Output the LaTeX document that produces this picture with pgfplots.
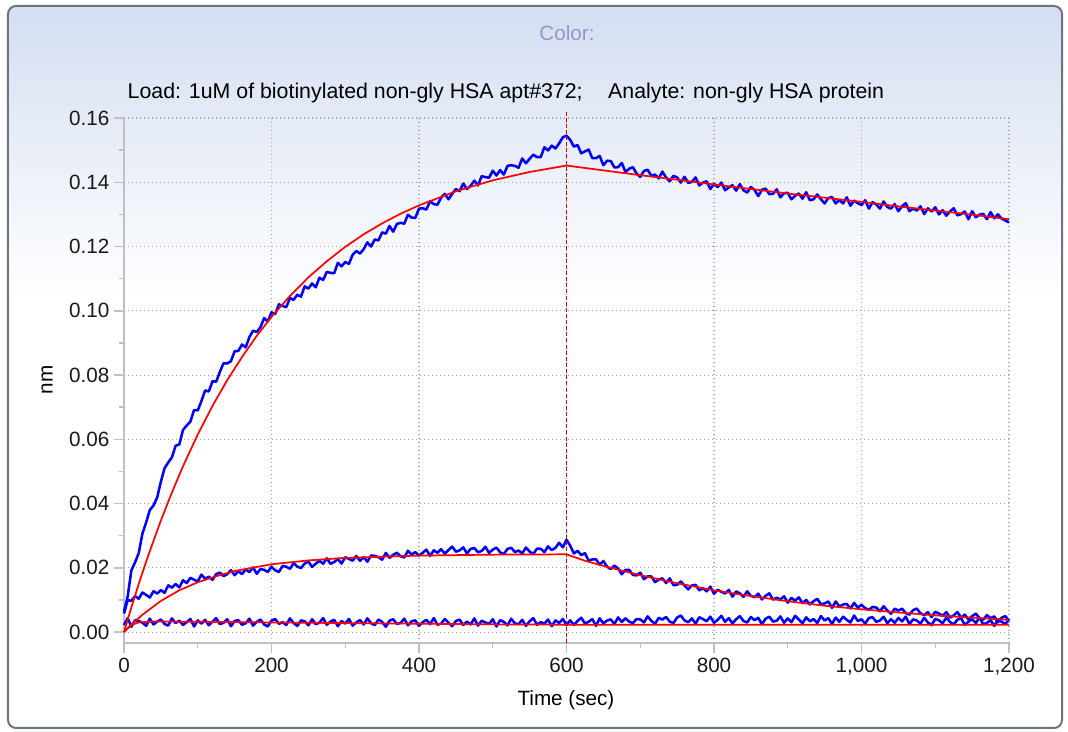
\documentclass[border=0pt]{standalone}
\usepackage{fontspec}
\setmainfont{Liberation Sans}
\usepackage{pgfplots}
\usepackage{pgfplotstable}
\pgfplotsset{compat=1.18}

\definecolor{frameedge}{RGB}{110,116,124}
\definecolor{headtop}{RGB}{212,222,241}
\definecolor{titlelav}{RGB}{150,150,205}
\definecolor{axgray}{RGB}{192,192,192}
\definecolor{gridgray}{RGB}{165,165,165}
\definecolor{sensor}{RGB}{0,0,255}
\definecolor{fitred}{RGB}{255,0,0}
\definecolor{stepred}{RGB}{205,0,0}

% raw sensor traces: t, high, medium, reference
\pgfplotstableread{
t a b c
0 0.0064 0.00576 0.00219
5 0.0111 0.00996 0.00436
10 0.0192 0.0097 0.00165
15 0.0217 0.0112 0.00372
20 0.0246 0.01036 0.00345
25 0.0307 0.01232 0.00291
30 0.0341 0.01158 0.00192
35 0.0380 0.01074 0.00417
40 0.0394 0.01272 0.00237
45 0.0419 0.0120 0.00327
50 0.0468 0.01304 0.0039
55 0.0510 0.01222 0.00255
60 0.0528 0.01454 0.00201
65 0.0544 0.01384 0.00426
70 0.0580 0.01498 0.00282
75 0.0584 0.01388 0.00354
80 0.0629 0.01614 0.00219
85 0.0643 0.01524 0.00309
90 0.0655 0.01688 0.00408
95 0.0691 0.0163 0.00174
100 0.0690 0.01578 0.00363
105 0.0719 0.0179 0.00264
110 0.0752 0.01658 0.00381
115 0.0749 0.01726 0.0021
120 0.0781 0.01626 0.00327
125 0.0779 0.01806 0.00435
130 0.0810 0.0185 0.00246
135 0.0837 0.01742 0.00291
140 0.0836 0.01802 0.00399
145 0.0843 0.01926 0.00183
150 0.0874 0.0177 0.00345
155 0.0875 0.01892 0.00372
160 0.0895 0.01806 0.00228
165 0.0886 0.01952 0.00273
170 0.0918 0.01866 0.00417
175 0.0938 0.02012 0.00201
180 0.0934 0.01814 0.00318
185 0.0949 0.0196 0.0039
190 0.0977 0.01938 0.00237
195 0.0967 0.01868 0.00174
200 0.0995 0.02038 0.00354
205 0.0990 0.01925 0.00408
210 0.1020 0.01868 0.00255
215 0.1015 0.02059 0.00309
220 0.1011 0.02034 0.00219
225 0.1040 0.01969 0.00426
230 0.1034 0.02144 0.00282
235 0.1050 0.02039 0.00192
240 0.1044 0.0199 0.00363
245 0.1076 0.02133 0.00336
250 0.1069 0.02196 0.0021
255 0.1085 0.02027 0.00399
260 0.1073 0.0213 0.00246
265 0.1103 0.02217 0.00291
270 0.1096 0.02128 0.00435
275 0.1121 0.02295 0.00228
280 0.1118 0.02126 0.00327
285 0.1117 0.02181 0.00381
290 0.1149 0.02276 0.00183
295 0.1138 0.02131 0.00345
300 0.1152 0.0233 0.00264
305 0.1146 0.02276 0.00408
310 0.1174 0.02222 0.00201
315 0.1186 0.02368 0.0030
320 0.1178 0.02218 0.00372
325 0.1192 0.02332 0.00237
330 0.1213 0.0219 0.00426
335 0.1200 0.02384 0.00273
340 0.1222 0.0237 0.00219
345 0.1219 0.02332 0.0039
350 0.1244 0.02254 0.00318
355 0.1240 0.02464 0.00165
360 0.1264 0.02314 0.00354
365 0.1246 0.02404 0.00399
370 0.1270 0.0247 0.00255
375 0.1274 0.0236 0.00282
380 0.1271 0.02322 0.00417
385 0.1299 0.02532 0.0021
390 0.1290 0.02414 0.00336
395 0.1289 0.02488 0.00363
400 0.1318 0.02378 0.00192
405 0.1319 0.02468 0.00309
410 0.1315 0.02566 0.00381
415 0.1341 0.02368 0.00246
420 0.1332 0.02546 0.00435
425 0.1330 0.02468 0.00228
430 0.1352 0.02582 0.00264
435 0.1364 0.0244 0.00408
440 0.1347 0.02554 0.00291
445 0.1364 0.0266 0.00183
450 0.1379 0.02502 0.00345
455 0.1372 0.02542 0.0039
460 0.1396 0.02638 0.00219
465 0.1379 0.02446 0.00327
470 0.1389 0.0259 0.00237
475 0.1405 0.02614 0.00426
480 0.1390 0.02486 0.00201
485 0.1419 0.02526 0.00354
490 0.1416 0.02654 0.0030
495 0.1414 0.02462 0.00255
500 0.1436 0.02566 0.00399
505 0.1421 0.0263 0.00174
510 0.1438 0.02484 0.00372
515 0.1424 0.02428 0.00318
520 0.1451 0.02588 0.0021
525 0.1453 0.02626 0.00417
530 0.1451 0.0249 0.00273
535 0.1445 0.02538 0.00246
540 0.1474 0.02448 0.00381
545 0.1459 0.02632 0.00192
550 0.1473 0.02504 0.00336
555 0.1486 0.02434 0.00435
560 0.1478 0.02596 0.00228
565 0.1478 0.02592 0.00309
570 0.1509 0.0249 0.00264
575 0.1499 0.02668 0.0039
580 0.1514 0.02552 0.00183
585 0.1505 0.02622 0.00363
590 0.1521 0.0278 0.00282
595 0.1540 0.02636 0.00408
600 0.1545 0.02874 0.00219
605 0.1532 0.02692 0.00365
610 0.1511 0.02446 0.00221
615 0.1516 0.0253 0.00347
620 0.1490 0.02398 0.00446
625 0.1496 0.02456 0.00266
630 0.1502 0.02222 0.00321
635 0.1475 0.0226 0.00402
640 0.1475 0.02264 0.00195
645 0.1482 0.02094 0.00429
650 0.1453 0.02212 0.00267
655 0.1467 0.02036 0.00358
660 0.1466 0.01958 0.00394
665 0.1446 0.0207 0.0025
670 0.1447 0.01976 0.00457
675 0.1460 0.0180 0.00314
680 0.1432 0.01938 0.00431
685 0.1442 0.01938 0.00323
690 0.1447 0.0178 0.00278
695 0.1427 0.01764 0.00405
700 0.1417 0.0185 0.00396
705 0.1435 0.01645 0.00299
710 0.1439 0.01732 0.00488
715 0.1420 0.01731 0.00353
720 0.1424 0.01554 0.00254
725 0.1412 0.01633 0.00443
730 0.1433 0.01672 0.00389
735 0.1415 0.01527 0.0047
740 0.1403 0.0167 0.00326
745 0.1420 0.01461 0.00281
750 0.1415 0.01468 0.00452
755 0.1399 0.01574 0.00515
760 0.1417 0.01448 0.00362
765 0.1398 0.0133 0.00308
770 0.1401 0.01452 0.00425
775 0.1415 0.0147 0.00263
780 0.1390 0.01296 0.00461
785 0.1399 0.0137 0.00407
790 0.1403 0.01268 0.00335
795 0.1379 0.01414 0.00479
800 0.1395 0.01192 0.0029
805 0.1385 0.01315 0.0038
810 0.1399 0.01254 0.00506
815 0.1375 0.01201 0.00317
820 0.1384 0.01316 0.00434
825 0.1391 0.01103 0.00272
830 0.1374 0.01266 0.00398
835 0.1394 0.01205 0.00497
840 0.1375 0.01096 0.00344
845 0.1368 0.01267 0.00299
850 0.1385 0.01126 0.0047
855 0.1376 0.01089 0.00371
860 0.1357 0.01196 0.00443
865 0.1377 0.01015 0.00245
870 0.1380 0.0113 0.00416
875 0.1363 0.01205 0.00479
880 0.1364 0.01008 0.00326
885 0.1378 0.01067 0.00353
890 0.1353 0.01014 0.00488
895 0.1366 0.01113 0.0029
900 0.1367 0.00916 0.00425
905 0.1347 0.01064 0.00308
910 0.1358 0.0098 0.00506
915 0.1365 0.0108 0.00389
920 0.1349 0.0090 0.00272
925 0.1369 0.0100 0.00461
930 0.1344 0.0086 0.00335
935 0.1347 0.0096 0.00407
940 0.1362 0.01036 0.00281
945 0.1347 0.00864 0.00497
950 0.1334 0.00892 0.00362
955 0.1351 0.00952 0.00434
960 0.1354 0.00756 0.00254
965 0.1334 0.00952 0.00452
970 0.1345 0.00796 0.00317
975 0.1334 0.00856 0.00479
980 0.1353 0.00876 0.0038
985 0.1327 0.00736 0.00299
990 0.1343 0.00908 0.00515
995 0.1335 0.0076 0.00344
1000 0.1329 0.00852 0.00398
1005 0.1344 0.00744 0.00261
1010 0.1318 0.00692 0.00439
1015 0.1338 0.00784 0.00464
1020 0.1331 0.00764 0.00318
1025 0.1318 0.00648 0.00361
1030 0.1340 0.00804 0.00476
1035 0.1323 0.00672 0.00276
1040 0.1318 0.00572 0.0040
1045 0.1332 0.00728 0.0029
1050 0.1310 0.00668 0.00441
1055 0.1325 0.0073 0.00331
1060 0.1335 0.00592 0.00482
1065 0.1310 0.00542 0.00246
1070 0.1318 0.00684 0.00397
1075 0.1312 0.0073 0.00359
1080 0.1325 0.00584 0.00267
1085 0.1301 0.00526 0.00445
1090 0.1319 0.0062 0.00299
1095 0.1309 0.00466 0.00216
1100 0.1322 0.00632 0.00412
1105 0.1300 0.00576 0.00365
1110 0.1313 0.00504 0.00273
1115 0.1296 0.00624 0.00451
1120 0.1309 0.00448 0.00314
1125 0.1319 0.0052 0.0024
1130 0.1297 0.00624 0.00382
1135 0.1301 0.00448 0.00434
1140 0.1309 0.00544 0.00225
1145 0.1285 0.00392 0.00322
1150 0.1310 0.00496 0.00401
1155 0.1291 0.00576 0.00282
1160 0.1299 0.00432 0.00451
1165 0.1302 0.00384 0.00242
1170 0.1285 0.00528 0.00285
1175 0.1307 0.00432 0.00373
1180 0.1288 0.00488 0.00191
1185 0.1300 0.00304 0.00396
1190 0.1287 0.00448 0.00322
1195 0.1281 0.00496 0.00248
1200 0.1275 0.00352 0.00399
}\sensors

% global fits
\pgfplotstableread{
t a
0 0
10 0.0077
20 0.0150
30 0.0219
40 0.0284
50 0.0347
60 0.0406
70 0.0462
80 0.0516
100 0.0615
120 0.0704
140 0.0784
160 0.0856
180 0.0922
200 0.0981
225 0.1046
250 0.1104
275 0.1154
300 0.1199
325 0.1238
350 0.1272
375 0.1302
400 0.1328
450 0.1372
500 0.1406
550 0.1432
600 0.1452
650 0.1437
700 0.1422
750 0.1408
800 0.1393
850 0.1379
900 0.1365
950 0.1352
1000 0.1339
1050 0.1325
1100 0.1312
1150 0.1299
1200 0.1285
}\fitA

\pgfplotstableread{
t b
0 0
10 0.0024
25 0.0054
50 0.0097
75 0.0130
100 0.0155
125 0.0174
150 0.0190
200 0.0211
250 0.0223
300 0.0231
400 0.0238
500 0.0241
600 0.0242
625 0.0222
650 0.0206
700 0.0177
750 0.0152
800 0.0130
850 0.0112
900 0.0096
950 0.0082
1000 0.0071
1050 0.0061
1100 0.0052
1150 0.0045
1200 0.0038
}\fitB

\pgfplotstableread{
t c
0 0
10 0.0022
20 0.0030
40 0.0033
100 0.0032
200 0.0030
300 0.0028
400 0.0026
500 0.0024
600 0.0023
800 0.0023
1000 0.0023
1200 0.0023
}\fitC

\begin{document}
\begin{tikzpicture}
% page and window frame
\path (-93pt,-66.75pt) rectangle (708pt,482.25pt);
\begin{scope}
  \clip[rounded corners=6pt] (-87pt,-63.75pt) rectangle (703.5pt,477.75pt);
  \fill[white] (-87pt,-63.75pt) rectangle (703.5pt,477.75pt);
  \shade[top color=headtop,bottom color=white] (-87pt,257pt) rectangle (703.5pt,477.75pt);
\end{scope}
\draw[frameedge,line width=1.5pt,rounded corners=6pt] (-87pt,-63.75pt) rectangle (703.5pt,477.75pt);

\begin{axis}[
    at={(0pt,0pt)}, anchor=south west,
    scale only axis,
    width=663.75pt, height=393.75pt,
    xmin=0, xmax=1200,
    ymin=-0.0034, ymax=0.16,
    clip=false,
    axis x line*=bottom, axis y line*=left,
    axis line style={axgray, line width=1.5pt},
    xtick={0,200,400,600,800,1000,1200},
    ytick={0,0.02,0.04,0.06,0.08,0.10,0.12,0.14,0.16},
    minor x tick num=1, minor y tick num=1,
    tick align=outside,
    major tick length=7.5pt, minor tick length=4pt,
    tick style={axgray, line width=1.1pt},
    grid=major,
    major grid style={gridgray, line width=0.8pt, dash pattern=on 0.8pt off 2.2pt},
    ticklabel style={font=\fontsize{15.5}{18}\selectfont, text=black!90},
    xticklabel style={/pgf/number format/.cd, 1000 sep={,}, assume math mode=true},
    yticklabel style={/pgf/number format/.cd, fixed, fixed zerofill, precision=2, assume math mode=true},
    scaled y ticks=false,
    xlabel={Time (sec)},
    xlabel style={at={(axis description cs:0.4994,-0.1086)}, anchor=center, font=\fontsize{15.5}{18}\selectfont},
    ylabel={nm},
    ylabel style={at={(axis description cs:-0.087,0.501)}, anchor=center, rotate=0, font=\fontsize{15.5}{18}\selectfont},
    title={Load: 1uM of biotinylated non-gly HSA apt\#372;\hspace{1.2em}Analyte: non-gly HSA protein},
    title style={at={(axis description cs:0.4316,1.0324)}, anchor=center, font=\fontsize{16}{19}\selectfont},
]
\addplot[sensor, line width=1.9pt, line join=round] table[x=t,y=a]{\sensors};
\addplot[sensor, line width=1.9pt, line join=round] table[x=t,y=b]{\sensors};
\addplot[sensor, line width=1.9pt, line join=round] table[x=t,y=c]{\sensors};
\addplot[fitred, line width=1.3pt] table[x=t,y=a]{\fitA};
\addplot[fitred, line width=1.3pt] table[x=t,y=b]{\fitB};
\addplot[fitred, line width=1.3pt] table[x=t,y=c]{\fitC};
\addplot[stepred, line width=1.1pt, dash pattern=on 3pt off 1.6pt] coordinates {(600,-0.0034) (600,0.1625)};
\node[font=\fontsize{15.5}{18}\selectfont, text=titlelav] at (axis description cs:0.5006,1.1619) {Color:};
\end{axis}
\end{tikzpicture}
\end{document}
